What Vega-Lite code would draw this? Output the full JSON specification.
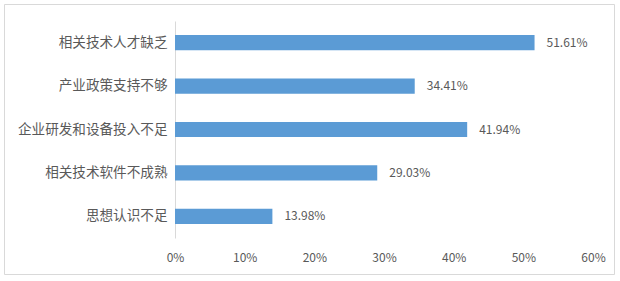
{
  "$schema": "https://vega.github.io/schema/vega-lite/v6.json",
  "width": 610,
  "height": 270,
  "padding": {"left": 4, "top": 4, "right": 6, "bottom": 7},
  "autosize": {"type": "none"},
  "background": "white",
  "config": {
    "view": {"stroke": "#d9d9d9", "strokeWidth": 1},
    "font": "Noto Sans CJK SC"
  },
  "data": {
    "values": [
      {"item": "相关技术人才缺乏", "value": 0.5161},
      {"item": "产业政策支持不够", "value": 0.3441},
      {"item": "企业研发和设备投入不足", "value": 0.4194},
      {"item": "相关技术软件不成熟", "value": 0.2903},
      {"item": "思想认识不足", "value": 0.1398}
    ]
  },
  "encoding": {
    "y": {
      "field": "item",
      "type": "nominal",
      "sort": null,
      "scale": {"range": [17, 234], "paddingInner": 0.65, "paddingOuter": 0.325},
      "axis": {
        "title": null,
        "offset": -171,
        "ticks": false,
        "domainColor": "#d9d9d9",
        "labelColor": "#595959",
        "labelFontSize": 13.6,
        "labelPadding": 8,
        "labelFont": "Noto Sans CJK SC"
      }
    },
    "x": {
      "field": "value",
      "type": "quantitative",
      "scale": {"domain": [0, 0.6], "range": [171, 589], "nice": false},
      "axis": {
        "title": null,
        "format": ".0%",
        "values": [0, 0.1, 0.2, 0.3, 0.4, 0.5, 0.6],
        "grid": false,
        "domain": false,
        "ticks": false,
        "labelFlush": false,
        "offset": -26,
        "labelColor": "#595959",
        "labelFontSize": 12,
        "labelPadding": 4,
        "labelFont": "Noto Sans CJK SC"
      }
    }
  },
  "layer": [
    {"mark": {"type": "bar", "color": "#5B9BD5"}},
    {
      "mark": {"type": "text", "align": "left", "dx": 12, "color": "#595959", "fontSize": 12, "font": "Noto Sans CJK SC"},
      "encoding": {"text": {"field": "value", "type": "quantitative", "format": ".2%"}}
    }
  ]
}
